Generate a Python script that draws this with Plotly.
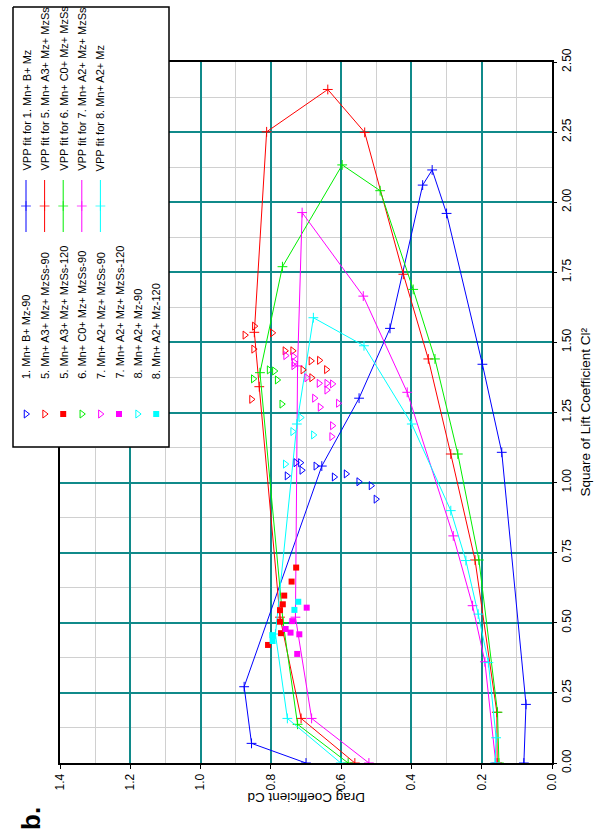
import plotly.graph_objects as go

# ---------------------------------------------------------------------------
# Drag coefficient Cd versus square of lift coefficient Cl^2
# (chart is laid out rotated: Cd runs right-to-left along the bottom,
#  Cl^2 runs bottom-to-top along the right-hand side)
# ---------------------------------------------------------------------------

# --- measured points -------------------------------------------------------
cd_1_mz90 = [0.754, 0.729, 0.716, 0.712, 0.672, 0.620, 0.586, 0.550, 0.515, 0.501]
cl2_1_mz90 = [1.024, 1.071, 1.071, 1.044, 1.059, 1.020, 1.031, 1.003, 0.989, 0.941]

cd_5_ss90 = [0.847, 0.874, 0.796, 0.849, 0.760, 0.738, 0.686, 0.662, 0.709, 0.642, 0.684, 0.855]
cl2_5_ss90 = [1.558, 1.526, 1.534, 1.476, 1.470, 1.470, 1.434, 1.436, 1.402, 1.403, 1.374, 1.297]

cd_5_ss120 = [0.728, 0.741, 0.762, 0.766, 0.774, 0.774, 0.771, 0.808]
cl2_5_ss120 = [0.697, 0.647, 0.597, 0.566, 0.545, 0.504, 0.463, 0.421]

cd_6_ss90 = [0.805, 0.790, 0.850, 0.782, 0.769]
cl2_6_ss90 = [1.402, 1.398, 1.370, 1.366, 1.280]

cd_7_ss90 = [0.758, 0.736, 0.734, 0.735, 0.698, 0.663, 0.641, 0.625, 0.641, 0.676, 0.608, 0.660, 0.625, 0.627]
cl2_7_ss90 = [1.453, 1.450, 1.429, 1.417, 1.374, 1.354, 1.354, 1.352, 1.330, 1.301, 1.283, 1.269, 1.203, 1.164]

cd_7_ss120 = [0.698, 0.739, 0.758, 0.744, 0.719, 0.725]
cl2_7_ss120 = [0.554, 0.506, 0.478, 0.465, 0.459, 0.389]

cd_8_mz90 = [0.715, 0.738, 0.679, 0.759]
cl2_8_mz90 = [1.232, 1.182, 1.170, 1.066]

cd_8_mz120 = [0.722, 0.733, 0.796, 0.795]
cl2_8_mz120 = [0.575, 0.546, 0.456, 0.435]

# --- VPP fits --------------------------------------------------------------
cd_fit_1 = [0.700, 0.855, 0.876, 0.655, 0.549, 0.461, 0.368, 0.341, 0.300, 0.198, 0.143, 0.074, 0.080]
cl2_fit_1 = [0.0, 0.070, 0.272, 1.059, 1.301, 1.550, 2.061, 2.115, 1.960, 1.422, 1.108, 0.209, 0.0]

cd_fit_5 = [0.561, 0.714, 0.774, 0.833, 0.847, 0.812, 0.638, 0.533, 0.423, 0.352, 0.288, 0.219, 0.157, 0.156]
cl2_fit_5 = [0.0, 0.159, 0.520, 1.342, 1.536, 2.251, 2.402, 2.249, 1.743, 1.441, 1.102, 0.724, 0.181, 0.0]

cd_fit_6 = [0.580, 0.724, 0.765, 0.831, 0.767, 0.597, 0.489, 0.395, 0.333, 0.268, 0.208, 0.155, 0.151]
cl2_fit_6 = [0.0, 0.138, 0.500, 1.392, 1.770, 2.133, 2.041, 1.689, 1.441, 1.102, 0.724, 0.181, 0.0]

cd_fit_7 = [0.521, 0.684, 0.730, 0.724, 0.711, 0.537, 0.412, 0.281, 0.226, 0.191, 0.160]
cl2_fit_7 = [0.0, 0.159, 0.520, 1.416, 1.963, 1.665, 1.322, 0.810, 0.561, 0.361, 0.0]

cd_fit_8 = [0.601, 0.753, 0.787, 0.726, 0.679, 0.535, 0.399, 0.288, 0.245, 0.210, 0.181, 0.159, 0.162]
cl2_fit_8 = [0.0, 0.159, 0.460, 1.209, 1.588, 1.488, 1.209, 0.900, 0.722, 0.531, 0.358, 0.090, 0.0]

# --- styling ---------------------------------------------------------------
FONT = "Liberation Sans, Arial, Helvetica, sans-serif"
BLUE, RED, GREEN, MAGENTA, CYAN = "#0000ff", "#ff0000", "#00ee00", "#ff00ff", "#00ffff"
TEAL = "#108a8a"
MINOR = "#d0d0d0"

W, H = 600, 839
PLOT_L, PLOT_R, PLOT_T, PLOT_B = 60, 552, 62, 763

point_series = [
    ("1. Mn+ B+ Mz-90", BLUE, "triangle-right-open", cd_1_mz90, cl2_1_mz90),
    ("5. Mn+ A3+ Mz+ MzSs-90", RED, "triangle-right-open", cd_5_ss90, cl2_5_ss90),
    ("5. Mn+ A3+ Mz+ MzSs-120", RED, "square", cd_5_ss120, cl2_5_ss120),
    ("6. Mn+ C0+ Mz+ MzSs-90", GREEN, "triangle-right-open", cd_6_ss90, cl2_6_ss90),
    ("7. Mn+ A2+ Mz+ MzSs-90", MAGENTA, "triangle-right-open", cd_7_ss90, cl2_7_ss90),
    ("7. Mn+ A2+ Mz+ MzSs-120", MAGENTA, "square", cd_7_ss120, cl2_7_ss120),
    ("8. Mn+ A2+ Mz-90", CYAN, "triangle-right-open", cd_8_mz90, cl2_8_mz90),
    ("8. Mn+ A2+ Mz-120", CYAN, "square", cd_8_mz120, cl2_8_mz120),
]

fit_series = [
    ("VPP fit for 1. Mn+ B+ Mz", BLUE, cd_fit_1, cl2_fit_1),
    ("VPP fit for 5. Mn+ A3+ Mz+ MzSs", RED, cd_fit_5, cl2_fit_5),
    ("VPP fit for 6. Mn+ C0+ Mz+ MzSs", GREEN, cd_fit_6, cl2_fit_6),
    ("VPP fit for 7. Mn+ A2+ Mz+ MzSs", MAGENTA, cd_fit_7, cl2_fit_7),
    ("VPP fit for 8. Mn+ A2+ Mz", CYAN, cd_fit_8, cl2_fit_8),
]


def point_marker(color, symbol, size=7):
    if symbol.endswith("open"):
        return dict(symbol=symbol, size=size, color=color, line=dict(color=color, width=1))
    return dict(symbol=symbol, size=size - 1, color=color, line=dict(width=0))


def fit_marker(color, size=7):
    return dict(symbol="cross-thin", size=size, color=color, line=dict(color=color, width=1))


fig = go.Figure()

# fitted polars
for name, color, cd, cl2 in fit_series:
    fig.add_trace(go.Scatter(
        x=cd, y=cl2, mode="lines+markers", name=name,
        line=dict(color=color, width=1), marker=fit_marker(color),
    ))

# measured points
for name, color, symbol, cd, cl2 in point_series:
    fig.add_trace(go.Scatter(
        x=cd, y=cl2, mode="markers", name=name, marker=point_marker(color, symbol),
    ))

# --- legend panel, drawn on a pixel-scaled overlay subplot -----------------
LEG_L, LEG_R, LEG_T, LEG_B = 13, 169, 7, 447
ROW_X0, ROW_DX = 26.0, 18.6
PT_SYMBOL_Y, PT_TEXT_Y = 414, 381
FIT_Y0, FIT_Y1, FIT_TEXT_Y = 180, 232, 173

fig.add_trace(go.Scatter(
    x=[LEG_L, LEG_R, LEG_R, LEG_L, LEG_L], y=[LEG_T, LEG_T, LEG_B, LEG_B, LEG_T],
    xaxis="x2", yaxis="y2", mode="lines", fill="toself", fillcolor="white",
    line=dict(color="black", width=1.5), hoverinfo="skip", showlegend=False,
))

annotations = []
for i, (name, color, symbol, _, _) in enumerate(point_series):
    rx = ROW_X0 + i * ROW_DX
    fig.add_trace(go.Scatter(
        x=[rx], y=[PT_SYMBOL_Y], xaxis="x2", yaxis="y2", mode="markers",
        marker=point_marker(color, symbol), hoverinfo="skip", showlegend=False,
    ))
    annotations.append(dict(
        x=rx, y=PT_TEXT_Y, xref="x2", yref="y2", text=name, showarrow=False,
        textangle=-90, xanchor="center", yanchor="bottom",
        font=dict(family=FONT, size=11, color="black"),
    ))

for i, (name, color, _, _) in enumerate(fit_series):
    rx = ROW_X0 + i * ROW_DX
    fig.add_trace(go.Scatter(
        x=[rx, rx, rx], y=[FIT_Y1, (FIT_Y0 + FIT_Y1) / 2, FIT_Y0], xaxis="x2", yaxis="y2",
        mode="lines+markers", line=dict(color=color, width=1),
        marker=dict(symbol="cross-thin", size=[0, 7, 0], color=color, line=dict(color=color, width=1)),
        hoverinfo="skip", showlegend=False,
    ))
    annotations.append(dict(
        x=rx, y=FIT_TEXT_Y, xref="x2", yref="y2", text=name, showarrow=False,
        textangle=-90, xanchor="center", yanchor="bottom",
        font=dict(family=FONT, size=11, color="black"),
    ))

# axis titles and panel tag
annotations += [
    dict(x=(PLOT_L + PLOT_R) / 2, y=798, xref="x2", yref="y2", text="Drag Coefficient Cd",
         showarrow=False, textangle=180, xanchor="center", yanchor="middle",
         font=dict(family=FONT, size=13.5, color="black")),
    dict(x=585, y=(PLOT_T + PLOT_B) / 2, xref="x2", yref="y2", text="Square of Lift Coefficient Cl²",
         showarrow=False, textangle=-90, xanchor="center", yanchor="middle",
         font=dict(family=FONT, size=13.5, color="black")),
    dict(x=31, y=819, xref="x2", yref="y2", text="<b>b.</b>",
         showarrow=False, textangle=-90, xanchor="center", yanchor="middle",
         font=dict(family=FONT, size=26, color="black")),
]

axis_common = dict(
    showline=True, linecolor="black", linewidth=2, mirror=True,
    ticks="outside", tickcolor="black", tickwidth=1,
    showgrid=True, gridcolor=TEAL, gridwidth=2, zeroline=False, automargin=False,
    tickangle=-90, tickfont=dict(family=FONT, size=12, color="black"),
)

fig.update_layout(
    template="none",
    width=W, height=H,
    margin=dict(l=0, r=0, t=0, b=0, pad=0, autoexpand=False),
    paper_bgcolor="white", plot_bgcolor="rgba(0,0,0,0)",
    showlegend=False,
    font=dict(family=FONT, color="black"),
    xaxis=dict(
        axis_common, domain=[PLOT_L / W, PLOT_R / W], range=[1.4, 0], autorange=False,
        dtick=0.2, tick0=0, tickformat=".1f", ticklen=4,
        minor=dict(dtick=0.1, showgrid=True, gridcolor=MINOR, gridwidth=1.2, ticklen=0),
    ),
    yaxis=dict(
        axis_common, domain=[1 - PLOT_B / H, 1 - PLOT_T / H], range=[0, 2.5], autorange=False,
        side="right", dtick=0.25, tick0=0, tickformat=".2f", ticklen=3,
        minor=dict(dtick=0.125, showgrid=True, gridcolor=MINOR, gridwidth=1.2, ticklen=0),
    ),
    xaxis2=dict(domain=[0, 1], range=[0, W], autorange=False, visible=False, anchor="y2", automargin=False),
    yaxis2=dict(domain=[0, 1], range=[H, 0], autorange=False, visible=False, anchor="x2", automargin=False),
    annotations=annotations,
)

fig.write_html("out.html")
